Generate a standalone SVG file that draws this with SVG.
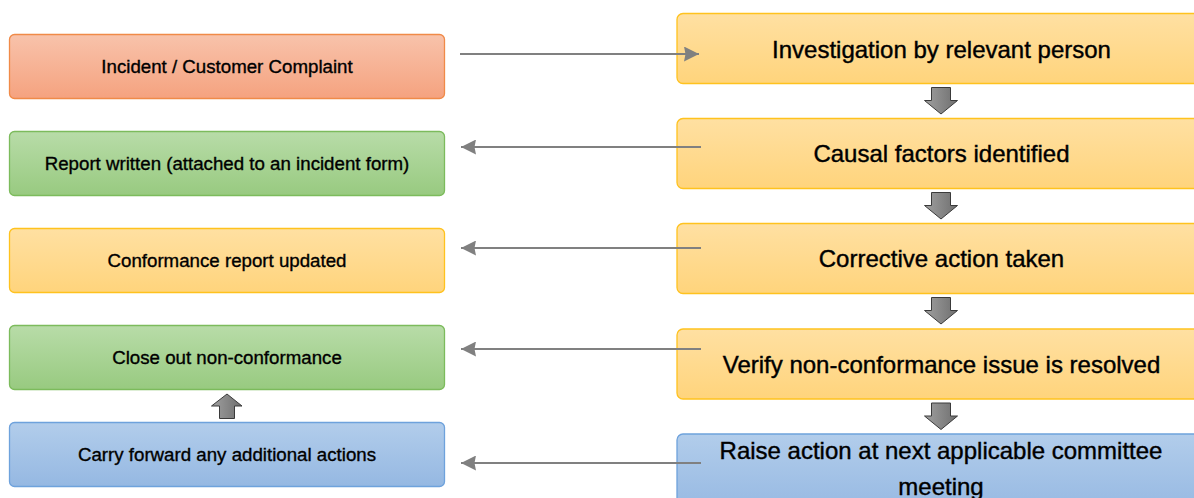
<svg xmlns="http://www.w3.org/2000/svg" width="1194" height="498" viewBox="0 0 1194 498">
<defs>
<linearGradient id="gOrange" x1="0" y1="0" x2="0" y2="1"><stop offset="0" stop-color="#f8c3ab"/><stop offset="1" stop-color="#f5a27f"/></linearGradient>
<linearGradient id="gGreen" x1="0" y1="0" x2="0" y2="1"><stop offset="0" stop-color="#b8dca8"/><stop offset="1" stop-color="#98ca80"/></linearGradient>
<linearGradient id="gYellow" x1="0" y1="0" x2="0" y2="1"><stop offset="0" stop-color="#ffe0a2"/><stop offset="1" stop-color="#ffd47c"/></linearGradient>
<linearGradient id="gBlue" x1="0" y1="0" x2="0" y2="1"><stop offset="0" stop-color="#b2cdeb"/><stop offset="1" stop-color="#95b8e2"/></linearGradient>
<linearGradient id="gGray" x1="0" y1="0" x2="1" y2="0"><stop offset="0" stop-color="#a0a0a0"/><stop offset="1" stop-color="#6e6e6e"/></linearGradient>
<marker id="ah" viewBox="0 0 15 15" refX="15" refY="7.5" markerWidth="15" markerHeight="15" markerUnits="userSpaceOnUse" orient="auto">
<path d="M0,0 L15,7.5 L0,15 L1.5,7.5 Z" fill="#808080"/>
</marker>
</defs>
<style>
.lt{font-family:"Liberation Sans",Arial,sans-serif;font-size:18.7px;fill:#000;stroke:#000;stroke-width:0.35;text-anchor:middle}
.rt{font-family:"Liberation Sans",Arial,sans-serif;font-size:24px;fill:#000;stroke:#000;stroke-width:0.4;text-anchor:middle}
.orange{fill:url(#gOrange);stroke:#f08a48;stroke-width:1.3}
.green{fill:url(#gGreen);stroke:#7cbb5c;stroke-width:1.3}
.yellow{fill:url(#gYellow);stroke:#ffc21e;stroke-width:1.3}
.blue{fill:url(#gBlue);stroke:#6ea2dc;stroke-width:1.3}
.conn{stroke:#808080;stroke-width:2.2;fill:none;marker-end:url(#ah)}
.blk{fill:url(#gGray);stroke:#3a3a3a;stroke-width:1}
</style>
<g id="incident"><rect class="orange" x="9.5" y="34.5" width="435" height="64" rx="5"/><text class="lt" x="227" y="72.7">Incident / Customer Complaint</text></g>
<g id="report"><rect class="green" x="9.5" y="131.5" width="435" height="64" rx="5"/><text class="lt" x="227" y="169.7">Report written (attached to an incident form)</text></g>
<g id="conformance"><rect class="yellow" x="9.5" y="228.5" width="435" height="64" rx="5"/><text class="lt" x="227" y="266.7">Conformance report updated</text></g>
<g id="closeout"><rect class="green" x="9.5" y="325.5" width="435" height="64" rx="5"/><text class="lt" x="227" y="363.7">Close out non-conformance</text></g>
<g id="carry"><rect class="blue" x="9.5" y="422.5" width="435" height="64" rx="5"/><text class="lt" x="227" y="460.7">Carry forward any additional actions</text></g>
<g id="investigation"><rect class="yellow" x="677" y="13.5" width="528" height="70" rx="6"/><text class="rt" x="941.5" y="57.5">Investigation by relevant person</text></g>
<g id="causal"><rect class="yellow" x="677" y="118.5" width="528" height="70" rx="6"/><text class="rt" x="941.5" y="162">Causal factors identified</text></g>
<g id="corrective"><rect class="yellow" x="677" y="223.5" width="528" height="70" rx="6"/><text class="rt" x="941.5" y="267">Corrective action taken</text></g>
<g id="verify"><rect class="yellow" x="677" y="329" width="528" height="70" rx="6"/><text class="rt" x="941.5" y="372.7">Verify non-conformance issue is resolved</text></g>
<g id="raise"><rect class="blue" x="677" y="434" width="528" height="80" rx="6"/><text class="rt" x="941" y="458.5">Raise action at next applicable committee</text><text class="rt" x="941" y="495">meeting</text></g>
<g id="connectors">
<line class="conn" x1="460" y1="54" x2="699" y2="54"/>
<line class="conn" x1="701" y1="147" x2="461" y2="147"/>
<line class="conn" x1="701" y1="248" x2="461" y2="248"/>
<line class="conn" x1="701" y1="349" x2="461" y2="349"/>
<line class="conn" x1="701" y1="463" x2="461" y2="463"/>
<path class="blk" d="M931.5,87.5 H950.5 V100.5 H957.5 L941,114 L924.5,100.5 H931.5 Z"/>
<path class="blk" d="M931.5,192.5 H950.5 V205.5 H957.5 L941,219 L924.5,205.5 H931.5 Z"/>
<path class="blk" d="M931.5,297.5 H950.5 V310.5 H957.5 L941,324 L924.5,310.5 H931.5 Z"/>
<path class="blk" d="M931.5,403 H950.5 V416 H957.5 L941,429.5 L924.5,416 H931.5 Z"/>
<path class="blk" d="M219.5,418.5 H234.5 V406 H242 L227,394 L211.5,406 H219.5 Z"/>
</g>
</svg>
